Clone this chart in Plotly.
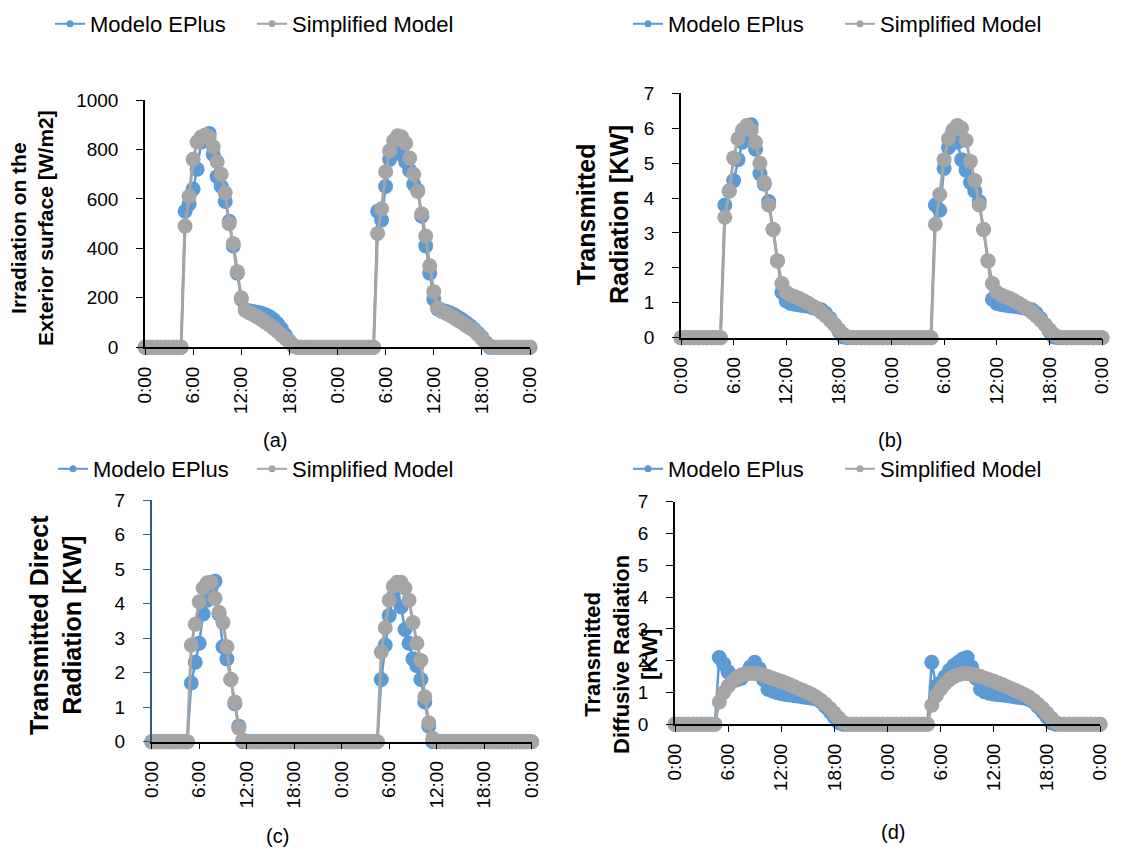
import plotly.graph_objects as go

W, H = 1121, 852

# ---------------- data (30-min steps over two days) ----------------
hours = [h / 2 for h in range(97)]
tick_vals = [0, 6, 12, 18, 24, 30, 36, 42, 48]
tick_text = ["0:00", "6:00", "12:00", "18:00", "0:00", "6:00", "12:00", "18:00", "0:00"]
series_names = ["Modelo EPlus", "Simplified Model"]

# (a) Irradiation on the exterior surface [W/m2]
irr_eplus = [
    0, 0, 0, 0, 0, 0, 0, 0, 0, 0, 550, 580,
    640, 720, 830, 845, 865, 780, 690, 650, 590, 510, 410, 300,
    195, 152, 148, 145, 142, 138, 132, 124, 112, 96, 75, 50,
    25, 5, 0, 0, 0, 0, 0, 0, 0, 0, 0, 0,
    0, 0, 0, 0, 0, 0, 0, 0, 0, 0, 550, 515,
    650, 760, 790, 805, 780, 750, 715, 660, 635, 530, 410, 300,
    195, 155, 150, 146, 140, 132, 122, 112, 100, 88, 74, 58,
    40, 18, 0, 0, 0, 0, 0, 0, 0, 0, 0, 0,
    0]
irr_simp = [
    0, 0, 0, 0, 0, 0, 0, 0, 0, 0, 490, 610,
    760, 830, 850, 858, 848, 811, 750, 700, 625, 500, 420, 306,
    200, 150, 140, 132, 123, 113, 102, 90, 78, 65, 50, 36,
    22, 9, 0, 0, 0, 0, 0, 0, 0, 0, 0, 0,
    0, 0, 0, 0, 0, 0, 0, 0, 0, 0, 460, 560,
    710, 795, 835, 855, 850, 825, 765, 700, 630, 540, 450, 330,
    225, 160, 145, 138, 130, 120, 110, 100, 88, 78, 68, 52,
    35, 18, 5, 0, 0, 0, 0, 0, 0, 0, 0, 0,
    0]

# (b) Transmitted radiation [KW]
tr_eplus = [
    0, 0, 0, 0, 0, 0, 0, 0, 0, 0, 3.8, 4.2,
    4.5, 5.1, 5.6, 5.9, 6.1, 5.4, 4.7, 4.4, 3.9, 3.1, 2.2, 1.3,
    1.05, 0.98, 0.96, 0.94, 0.92, 0.9, 0.86, 0.83, 0.8, 0.7, 0.55, 0.38,
    0.18, 0.02, 0, 0, 0, 0, 0, 0, 0, 0, 0, 0,
    0, 0, 0, 0, 0, 0, 0, 0, 0, 0, 3.8, 3.65,
    4.85, 5.45, 5.9, 5.6, 5.1, 4.8, 4.45, 4.2, 3.9, 3.1, 2.2, 1.1,
    0.98, 0.95, 0.93, 0.91, 0.9, 0.88, 0.86, 0.83, 0.8, 0.7, 0.55, 0.38,
    0.18, 0.02, 0, 0, 0, 0, 0, 0, 0, 0, 0, 0,
    0]
tr_simp = [
    0, 0, 0, 0, 0, 0, 0, 0, 0, 0, 3.45, 4.2,
    5.15, 5.7, 5.95, 6.08, 5.95, 5.6, 5.0, 4.45, 3.8, 3.1, 2.2, 1.55,
    1.3, 1.22, 1.17, 1.12, 1.06, 0.99, 0.91, 0.83, 0.73, 0.62, 0.5, 0.37,
    0.23, 0.1, 0.02, 0, 0, 0, 0, 0, 0, 0, 0, 0,
    0, 0, 0, 0, 0, 0, 0, 0, 0, 0, 3.25, 4.1,
    5.1, 5.7, 5.95, 6.08, 6.0, 5.65, 5.05, 4.5, 3.8, 3.1, 2.2, 1.55,
    1.3, 1.22, 1.17, 1.12, 1.06, 0.99, 0.91, 0.83, 0.73, 0.62, 0.5, 0.37,
    0.23, 0.1, 0.02, 0, 0, 0, 0, 0, 0, 0, 0, 0,
    0]

# (c) Transmitted direct radiation [KW]
dir_eplus = [
    0, 0, 0, 0, 0, 0, 0, 0, 0, 0, 1.7, 2.3,
    2.85, 3.7, 4.1, 4.45, 4.65, 3.7, 2.75, 2.4, 1.8, 1.1, 0.45, 0,
    0, 0, 0, 0, 0, 0, 0, 0, 0, 0, 0, 0,
    0, 0, 0, 0, 0, 0, 0, 0, 0, 0, 0, 0,
    0, 0, 0, 0, 0, 0, 0, 0, 0, 0, 1.8, 2.8,
    3.65, 4.2, 4.5, 3.9, 3.25, 2.85, 2.4, 2.2, 1.8, 1.15, 0.45, 0,
    0, 0, 0, 0, 0, 0, 0, 0, 0, 0, 0, 0,
    0, 0, 0, 0, 0, 0, 0, 0, 0, 0, 0, 0,
    0]
dir_simp = [
    0, 0, 0, 0, 0, 0, 0, 0, 0, 0, 2.8, 3.4,
    4.05, 4.45, 4.6, 4.62, 4.15, 3.75, 3.45, 2.75, 1.8, 1.15, 0.4, 0.05,
    0, 0, 0, 0, 0, 0, 0, 0, 0, 0, 0, 0,
    0, 0, 0, 0, 0, 0, 0, 0, 0, 0, 0, 0,
    0, 0, 0, 0, 0, 0, 0, 0, 0, 0, 2.6, 3.3,
    4.1, 4.5, 4.62, 4.62, 4.45, 4.1, 3.45, 2.85, 2.35, 1.3, 0.55, 0.1,
    0, 0, 0, 0, 0, 0, 0, 0, 0, 0, 0, 0,
    0, 0, 0, 0, 0, 0, 0, 0, 0, 0, 0, 0,
    0]

# (d) Transmitted diffusive radiation [KW]
dif_eplus = [
    0, 0, 0, 0, 0, 0, 0, 0, 0, 0, 2.1, 1.9,
    1.65, 1.5, 1.4, 1.45, 1.6, 1.8, 1.95, 1.75, 1.4, 1.1, 1.05, 1.0,
    0.97, 0.94, 0.92, 0.9, 0.88, 0.86, 0.84, 0.82, 0.8, 0.7, 0.55, 0.4,
    0.22, 0.05, 0, 0, 0, 0, 0, 0, 0, 0, 0, 0,
    0, 0, 0, 0, 0, 0, 0, 0, 0, 0, 1.95, 1.2,
    1.3, 1.5, 1.7, 1.85, 1.95, 2.05, 2.1, 1.8, 1.45, 1.1, 1.02, 0.98,
    0.95, 0.93, 0.92, 0.9, 0.88, 0.86, 0.84, 0.82, 0.78, 0.7, 0.55, 0.4,
    0.22, 0.05, 0, 0, 0, 0, 0, 0, 0, 0, 0, 0,
    0]
dif_simp = [
    0, 0, 0, 0, 0, 0, 0, 0, 0, 0, 0.7, 1.0,
    1.2, 1.35, 1.47, 1.55, 1.58, 1.6, 1.6, 1.58, 1.54, 1.5, 1.45, 1.4,
    1.35, 1.3, 1.24, 1.18, 1.12, 1.06, 1.0, 0.93, 0.85, 0.75, 0.63, 0.5,
    0.35, 0.2, 0.06, 0, 0, 0, 0, 0, 0, 0, 0, 0,
    0, 0, 0, 0, 0, 0, 0, 0, 0, 0, 0.6, 0.9,
    1.1, 1.28, 1.4, 1.5, 1.56, 1.6, 1.6, 1.58, 1.54, 1.5, 1.45, 1.4,
    1.35, 1.3, 1.24, 1.18, 1.12, 1.06, 1.0, 0.93, 0.85, 0.75, 0.63, 0.5,
    0.35, 0.2, 0.06, 0, 0, 0, 0, 0, 0, 0, 0, 0,
    0]

# ---------------- styling / layout ----------------
BLUE = "#5B9BD5"
GRAY = "#A5A5A5"
FONT = "Liberation Sans, Arial, sans-serif"


def px(x):
    return x / W


def py(y):
    return 1 - y / H


panels = [
    dict(ep=irr_eplus, sm=irr_simp, x0=145, x1=530, y0=347.3, y1=100, ymax=1000, dtick=200,
         title="Irradiation on the<br>Exterior surface [W/m2]", tx=32, ty=228, tsize=21,
         cap="(a)", cx=275, cy=440, legs=(50, 252), leg_y=24, ylinecolor="black"),
    dict(ep=tr_eplus, sm=tr_simp, x0=681, x1=1102, y0=337.7, y1=93.3, ymax=7, dtick=1,
         title="Transmitted<br>Radiation [KW]", tx=603, ty=215, tsize=25,
         cap="(b)", cx=890, cy=440, legs=(628, 840), leg_y=24, ylinecolor="black"),
    dict(ep=dir_eplus, sm=dir_simp, x0=151.7, x1=531.7, y0=741.7, y1=500, ymax=7, dtick=1,
         title="Transmitted Direct<br>Radiation [KW]", tx=55, ty=625, tsize=25,
         cap="(c)", cx=277, cy=836, legs=(53, 252), leg_y=469, ylinecolor="#2E5C8A"),
    dict(ep=dif_eplus, sm=dif_simp, x0=675, x1=1100, y0=724.3, y1=501.7, ymax=7, dtick=1,
         title="Transmitted<br>Diffusive Radiation<br>[KW]", tx=621, ty=655, tsize=22,
         cap="(d)", cx=893, cy=832, legs=(628, 840), leg_y=469, ylinecolor="black"),
]

fig = go.Figure()
layout = dict(
    width=W, height=H, margin=dict(l=0, r=0, t=0, b=0, autoexpand=False),
    paper_bgcolor="white", plot_bgcolor="white",
    font=dict(family=FONT, size=19, color="black"),
    annotations=[],
)

leg_count = 0
for i, p in enumerate(panels):
    n = i + 1
    xa = "x" if n == 1 else f"x{n}"
    ya = "y" if n == 1 else f"y{n}"
    for k, (name, vals, col, lw) in enumerate(
            [(series_names[0], p["ep"], BLUE, 2.5), (series_names[1], p["sm"], GRAY, 3)]):
        fig.add_trace(go.Scatter(
            x=hours, y=vals, mode="lines+markers", name=name,
            line=dict(color=col, width=lw), marker=dict(color=col, size=15),
            cliponaxis=False, showlegend=False, xaxis=xa, yaxis=ya, hoverinfo="skip"))
        leg_count += 1
        leg = "legend" if leg_count == 1 else f"legend{leg_count}"
        # legend entry with a small marker like the reference
        fig.add_trace(go.Scatter(
            x=[None], y=[None], mode="lines+markers", name=name,
            line=dict(color=col, width=2), marker=dict(color=col, size=7),
            showlegend=True, legend=leg, xaxis=xa, yaxis=ya))
        layout[leg] = dict(
            orientation="h", x=px(p["legs"][k]), y=py(p["leg_y"]), xanchor="left", yanchor="middle",
            font=dict(family=FONT, size=22, color="black"), bgcolor="rgba(0,0,0,0)",
            itemwidth=30)
    xkey = "xaxis" if n == 1 else f"xaxis{n}"
    ykey = "yaxis" if n == 1 else f"yaxis{n}"
    layout[xkey] = dict(
        domain=[px(p["x0"]), px(p["x1"])], range=[0, 48], anchor=ya, automargin=False,
        tickmode="array", tickvals=tick_vals, ticktext=tick_text, tickangle=-90,
        showline=True, linecolor="black", linewidth=1.5, ticks="outside", ticklen=6,
        tickcolor="black", showgrid=False, zeroline=False,
        tickfont=dict(family=FONT, size=19, color="black"), ticklabelstandoff=4)
    layout[ykey] = dict(
        domain=[py(p["y0"]), py(p["y1"])], range=[0, p["ymax"]], anchor=xa, automargin=False,
        tickmode="linear", tick0=0, dtick=p["dtick"],
        showline=True, linecolor=p["ylinecolor"], linewidth=1.5, ticks="outside", ticklen=7,
        tickcolor=p["ylinecolor"], showgrid=False, zeroline=False,
        tickfont=dict(family=FONT, size=19, color="black"), ticklabelstandoff=14)
    layout["annotations"].append(dict(
        text=f"<b>{p['title']}</b>", xref="paper", yref="paper", x=px(p["tx"]), y=py(p["ty"]),
        xanchor="center", yanchor="middle", textangle=-90, showarrow=False, align="center",
        font=dict(family=FONT, size=p["tsize"], color="black")))
    layout["annotations"].append(dict(
        text=p["cap"], xref="paper", yref="paper", x=px(p["cx"]), y=py(p["cy"]),
        xanchor="center", yanchor="middle", showarrow=False,
        font=dict(family=FONT, size=20, color="black")))

fig.update_layout(**layout)
fig.write_html("out.html")
